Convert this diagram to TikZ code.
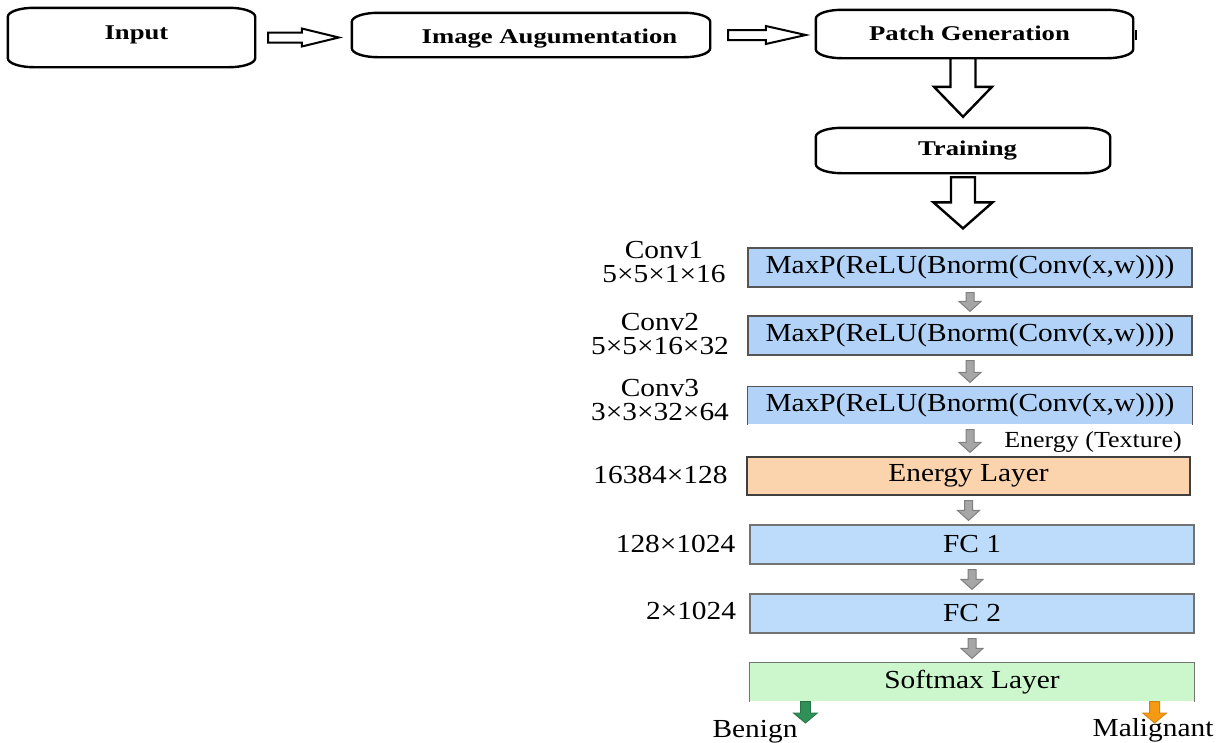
\documentclass[tikz,border=0pt]{standalone}
\usepackage{fontspec}
\setmainfont{Liberation Serif}
\newfontfamily\layerfont[FakeStretch=1.13]{Liberation Serif}
\newfontfamily\stagefont[FakeStretch=1.27]{Liberation Serif}
\usetikzlibrary{calc}

\definecolor{convblue}{HTML}{B2D3F7}
\definecolor{fcblue}{HTML}{BDDCFB}
\definecolor{energyorange}{HTML}{FBD4AE}
\definecolor{softgreen}{HTML}{CCF7CC}
\definecolor{boxgray}{HTML}{555555}
\definecolor{arrowgray}{HTML}{A6A6A6}
\definecolor{arrowedge}{HTML}{7F7F7F}
\definecolor{benigngreen}{HTML}{2F9158}
\definecolor{maligorange}{HTML}{F59A12}

% outline of a pipeline stage: straight sides, elliptic corners
\newcommand{\stageoutline}[1]{%
  \draw[stageline]
    ([xshift=26pt]#1.north west) -- ([xshift=-26pt]#1.north east)
    arc[start angle=90,end angle=0,x radius=26pt,y radius=9pt]
    -- ([yshift=9pt]#1.south east)
    arc[start angle=0,end angle=-90,x radius=26pt,y radius=9pt]
    -- ([xshift=26pt]#1.south west)
    arc[start angle=270,end angle=180,x radius=26pt,y radius=9pt]
    -- ([yshift=-9pt]#1.north west)
    arc[start angle=180,end angle=90,x radius=26pt,y radius=9pt]
    -- cycle;}

% block arrow pointing down: from #1 to #2, shaft half width #3,
% head half width #4, head length #5, style #6
\newcommand{\vblock}[6]{%
  \path[#6] let \p1=#1, \p2=#2 in
    (\x1-#3,\y1) -- (\x1+#3,\y1) -- (\x1+#3,\y2+#5) -- (\x1+#4,\y2+#5)
    -- (\x1,\y2) -- (\x1-#4,\y2+#5) -- (\x1-#3,\y2+#5) -- cycle;}

% block arrow pointing right
\newcommand{\hblock}[6]{%
  \path[#6] let \p1=#1, \p2=#2 in
    (\x1,\y1+#3) -- (\x2-#5,\y1+#3) -- (\x2-#5,\y1+#4) -- (\x2,\y1)
    -- (\x2-#5,\y1-#4) -- (\x2-#5,\y1-#3) -- (\x1,\y1-#3) -- cycle;}

\begin{document}
\begin{tikzpicture}[x=1pt,y=-1pt,
  stagebox/.style={draw=none,inner sep=0pt},
  stageline/.style={draw=black,line width=2.4pt,line join=round},
  stagetext/.style={font=\stagefont\bfseries\fontsize{21}{24}\selectfont,anchor=base,inner sep=0pt},
  layer/.style={draw=boxgray,line width=1.2pt,minimum width=444pt,minimum height=39pt,
    inner sep=0pt,font=\layerfont\fontsize{26}{30}\selectfont},
  openlayer/.style={layer,draw=none},
  dimlabel/.style={font=\layerfont\fontsize{26}{30}\selectfont,inner sep=0pt,anchor=base},
  convlabel/.style={font=\layerfont\fontsize{26}{#1}\selectfont,inner sep=0pt,anchor=base,align=center},
  hollowarrow/.style={draw=black,fill=white,line width=2.4pt,line join=miter},
  thinhollow/.style={draw=black,fill=white,line width=2pt,line join=miter},
  grayarrow/.style={draw=arrowedge,fill=arrowgray,line width=1pt},
  benignarrow/.style={draw=benigngreen!80!black,fill=benigngreen,line width=0.8pt},
  maligarrow/.style={draw=maligorange!85!black,fill=maligorange,line width=0.8pt}]

\useasboundingbox (0,0) rectangle (1217,742);

% ---- pipeline stages ----
\node[stagebox,minimum width=247pt,minimum height=59pt] (input)    at (131.5,37.5) {};
\node[stagebox,minimum width=358pt,minimum height=44pt] (imgaug)   at (531,35) {};
\node[stagebox,minimum width=317pt,minimum height=48pt] (patch)    at (974.5,34) {};
\node[stagebox,minimum width=294pt,minimum height=45pt] (training) at (963,150.5) {};
\stageoutline{input}
\stageoutline{imgaug}
\stageoutline{patch}
\stageoutline{training}
\draw[line width=2pt] (1136,30) -- (1136,40);

\node[stagetext] (inputtxt)    at (136.5,39)  {Input};
\node[stagetext] (imgaugtxt)   at (549.5,43)  {Image Augumentation};
\node[stagetext] (patchtxt)    at (969.5,40)  {Patch Generation};
\node[stagetext] (trainingtxt) at (967.5,155) {Training};

% ---- network layers ----
\node[layer,fill=convblue]      (conv1)   at (970,267.5)  {MaxP(ReLU(Bnorm(Conv(x,w))))};
\node[layer,fill=convblue]      (conv2)   at (970,335.5)  {MaxP(ReLU(Bnorm(Conv(x,w))))};
\node[openlayer,fill=convblue,minimum height=37pt] (conv3) at (970,405.5) {MaxP(ReLU(Bnorm(Conv(x,w))))};
\draw[boxgray,line width=1.2pt] (conv3.south west) -- (conv3.north west) -- (conv3.north east) -- (conv3.south east);
\node[layer,fill=energyorange,draw=black!75,minimum width=443pt,minimum height=38pt] (energy) at (968.5,476) {Energy Layer};
\node[layer,fill=fcblue,draw=black!55] (fc1) at (972,544.5) {FC 1};
\node[layer,fill=fcblue,draw=black!55] (fc2) at (972,613.5) {FC 2};
\node[openlayer,fill=softgreen,minimum height=38pt] (softmax) at (972,682) {Softmax Layer};
\draw[black!55,line width=1.2pt] (softmax.south west) -- (softmax.north west) -- (softmax.north east) -- (softmax.south east);

% ---- layer sizes (anchored at the baseline of the second line) ----
\node[convlabel=24] (conv1lbl) at (664,282) {Conv1\\5×5×1×16};
\node[convlabel=24] (conv2lbl) at (660,354) {Conv2\\5×5×16×32};
\node[convlabel=24] (conv3lbl) at (660,420) {Conv3\\3×3×32×64};
\node[dimlabel] (energylbl) at (660.5,483) {16384×128};
\node[dimlabel] (fc1lbl)    at (675.5,552) {128×1024};
\node[dimlabel] (fc2lbl)    at (691,619)   {2×1024};
\node[font=\layerfont\fontsize{23}{26}\selectfont,inner sep=0pt,anchor=base] (texturelbl) at (1093,447) {Energy (Texture)};

% ---- outputs ----
\coordinate (benigntip) at (806,723);
\coordinate (maligtip)  at (1154,723);
\node[dimlabel] (benign)    at (755,737)  {Benign};
\node[dimlabel] (malignant) at (1153,736) {Malignant};

% ---- connectors ----
\hblock{([xshift=13pt]input.east)}{([xshift=-13pt]imgaug.west)}{5pt}{9pt}{37pt}{thinhollow}
\hblock{([xshift=18pt]imgaug.east)}{([xshift=-10pt]patch.west)}{5pt}{9pt}{40pt}{thinhollow}
\vblock{(patch.south -| training.north)}{([yshift=11pt]training.north)}{12.5pt}{29pt}{30pt}{hollowarrow}
\vblock{([yshift=-4pt]training.south)}{([yshift=19pt]conv1.north)}{12pt}{29.5pt}{26pt}{hollowarrow}

\vblock{([yshift=-5pt]conv1.south)}{([yshift=4pt]conv2.north)}{4pt}{11pt}{10pt}{grayarrow}
\vblock{([yshift=-5pt]conv2.south)}{([yshift=4pt]conv3.north)}{4pt}{11pt}{10pt}{grayarrow}
\vblock{([yshift=-5pt]conv3.south)}{([yshift=4pt]energy.north)}{4pt}{11pt}{10pt}{grayarrow}
\vblock{([yshift=-5pt]energy.south)}{([yshift=4pt]fc1.north)}{4pt}{11pt}{10pt}{grayarrow}
\vblock{([yshift=-5pt]fc1.south)}{([yshift=4pt]fc2.north)}{4pt}{11pt}{10pt}{grayarrow}
\vblock{([yshift=-5pt]fc2.south)}{([yshift=4pt]softmax.north)}{4pt}{11pt}{10pt}{grayarrow}

\vblock{([xshift=56pt]softmax.south west)}{(benigntip)}{5pt}{12pt}{10pt}{benignarrow}
\vblock{([xshift=-40pt]softmax.south east)}{(maligtip)}{5pt}{12pt}{10pt}{maligarrow}
\end{tikzpicture}
\end{document}
